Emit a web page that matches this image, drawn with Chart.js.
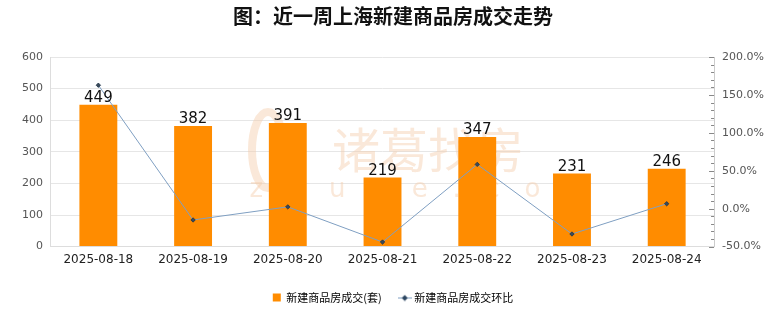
<!DOCTYPE html>
<html>
<head>
<meta charset="utf-8">
<script src="https://cdn.jsdelivr.net/npm/chart.js@4"></script>
<style>
  html, body { margin: 0; padding: 0; background: #fff; }
</style>
</head>
<body>
<canvas id="dealChart" width="780" height="328"></canvas>
<script>
const days = ["2025-08-18", "2025-08-19", "2025-08-20", "2025-08-21", "2025-08-22", "2025-08-23", "2025-08-24"];
const deals = [449, 382, 391, 219, 347, 231, 246];
const dealChange = [162.8, -14.9, 2.4, -44.0, 58.4, -33.4, 6.5];

const ctx = document.getElementById("dealChart");
const font = "'Noto Sans CJK SC', 'Noto Sans', sans-serif";

// legend icon for the line series: short line with a diamond
const lineIcon = document.createElement("canvas");
lineIcon.width = 14;
lineIcon.height = 8;
(function () {
  const g = lineIcon.getContext("2d");
  g.strokeStyle = "#7f9fc2";
  g.lineWidth = 1;
  g.beginPath();
  g.moveTo(0, 4.5);
  g.lineTo(14, 4.5);
  g.stroke();
  g.fillStyle = "#2b4560";
  g.beginPath();
  g.moveTo(7, 1.5);
  g.lineTo(10, 4.5);
  g.lineTo(7, 7.5);
  g.lineTo(4, 4.5);
  g.closePath();
  g.fill();
})();

// numbers above each bar
const barLabels = {
  id: "barLabels",
  afterDatasetsDraw(chart) {
    const c = chart.ctx;
    const meta = chart.getDatasetMeta(1);
    c.save();
    c.font = "15px 'DejaVu Sans', sans-serif";
    c.fillStyle = "#111";
    c.textAlign = "center";
    c.textBaseline = "bottom";
    meta.data.forEach((bar, i) => {
      c.fillText(deals[i], bar.x, bar.y + 1);
    });
    c.restore();
  },
};

// small tick marks every 10% on the right axis
const minorTicks = {
  id: "minorTicks",
  afterDraw(chart) {
    const s = chart.scales.y1;
    const c = chart.ctx;
    c.save();
    c.strokeStyle = "#888";
    c.lineWidth = 1;
    for (let v = s.min; v <= s.max; v += 10) {
      const y = Math.round(s.getPixelForValue(v)) + 0.5;
      const len = v % 50 === 0 ? 5 : 3;
      c.beginPath();
      c.moveTo(s.left - len, y);
      c.lineTo(s.left, y);
      c.stroke();
    }
    c.restore();
  },
};

// faint logo behind the plot
const watermark = {
  id: "watermark",
  beforeDatasetsDraw(chart) {
    const c = chart.ctx;
    c.save();
    c.fillStyle = "rgba(245, 205, 170, 0.45)";
    c.strokeStyle = "rgba(245, 205, 170, 0.45)";
    c.textAlign = "center";
    c.textBaseline = "middle";
    c.font = "48px " + font;
    c.fillText("诸葛找房", 428, 150);
    c.font = "26px 'DejaVu Sans', sans-serif";
    c.fillText("z   h   u   g   e   .   c   o   m", 420, 190);
    c.lineWidth = 8;
    c.beginPath();
    c.ellipse(268, 150, 16, 38, 0, 0, Math.PI * 2);
    c.stroke();
    c.restore();
  },
};

new Chart(ctx, {
  data: {
    labels: days,
    datasets: [
      {
        type: "line",
        label: "新建商品房成交环比",
        data: dealChange,
        yAxisID: "y1",
        borderColor: "#7f9fc2",
        borderWidth: 1,
        pointStyle: "rectRot",
        pointRadius: 2.2,
        pointBackgroundColor: "#3a4a5a",
        pointBorderColor: "#1f3347",
        pointBorderWidth: 0.8,
        tension: 0,
        order: 0,
      },
      {
        type: "bar",
        label: "新建商品房成交(套)",
        data: deals,
        yAxisID: "y",
        backgroundColor: "#ff8c00",
        categoryPercentage: 1,
        barPercentage: 0.4,
        order: 1,
      },
    ],
  },
  options: {
    responsive: false,
    animation: false,
    layout: { padding: { left: 14, right: 8, top: 0, bottom: 15 } },
    plugins: {
      title: {
        display: true,
        text: "图：近一周上海新建商品房成交走势",
        color: "#111",
        font: { family: font, size: 20, weight: "bold" },
        padding: { top: 4, bottom: 29 },
      },
      legend: {
        position: "bottom",
        labels: {
          usePointStyle: true,
          color: "#333",
          font: { family: font, size: 11 },
          boxWidth: 8,
          boxHeight: 8,
          padding: 19,
          generateLabels() {
            return [
              {
                text: "新建商品房成交(套)",
                fillStyle: "#ff8c00",
                strokeStyle: "#ff8c00",
                pointStyle: "rect",
                lineWidth: 0,
                datasetIndex: 1,
              },
              {
                text: "新建商品房成交环比",
                pointStyle: lineIcon,
                lineWidth: 0,
                datasetIndex: 0,
              },
            ];
          },
        },
      },
      tooltip: { enabled: false },
    },
    scales: {
      x: {
        grid: { display: false, tickLength: 0 },
        border: { color: "#ddd" },
        ticks: { color: "#222", font: { family: "'DejaVu Sans', sans-serif", size: 12 }, padding: 6 },
      },
      y: {
        position: "left",
        min: 0,
        max: 600,
        ticks: { stepSize: 100, color: "#555", font: { family: "'DejaVu Sans', sans-serif", size: 11 }, padding: 8 },
        grid: { color: "#e6e6e6", drawTicks: false },
        border: { color: "#ddd" },
      },
      y1: {
        position: "right",
        min: -50,
        max: 200,
        ticks: {
          stepSize: 50,
          color: "#555",
          font: { family: "'DejaVu Sans', sans-serif", size: 11 },
          padding: 8,
          callback: (v) => v.toFixed(1) + "%",
        },
        grid: { display: false, drawTicks: false },
        border: { color: "#ccc" },
      },
    },
  },
  plugins: [watermark, barLabels, minorTicks],
});
</script>
</body>
</html>
